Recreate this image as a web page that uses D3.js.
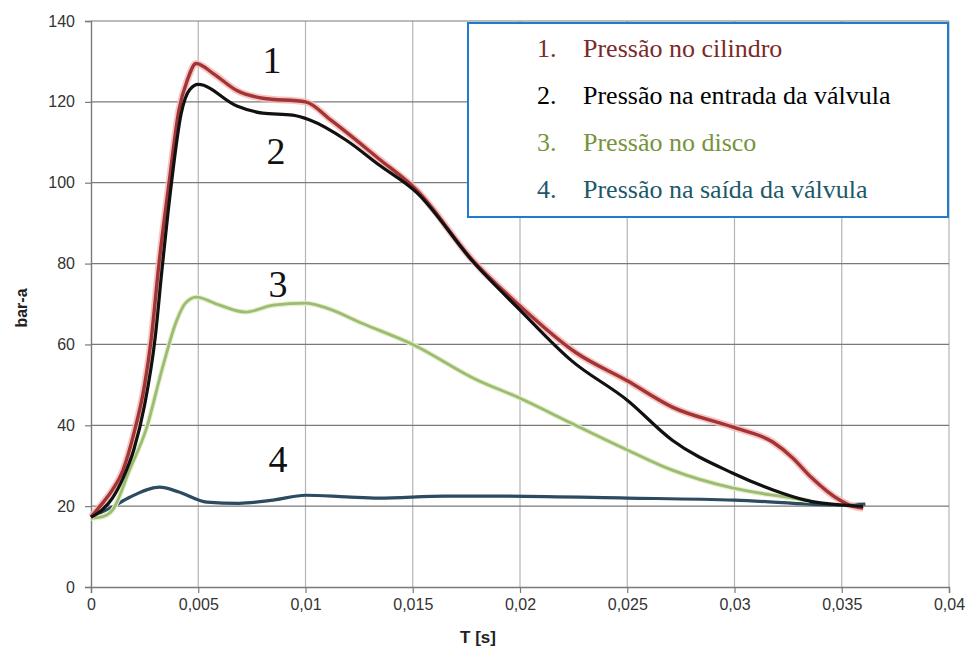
<!DOCTYPE html>
<html>
<head>
<meta charset="utf-8">
<script src="https://cdn.jsdelivr.net/npm/d3@7"></script>
<style>
  body { margin: 0; background: #fff; }
  svg { display: block; }
</style>
</head>
<body>
<script>
// time axis values in seconds, pressures in bar-a
const cilindroT = [0, 0.0005, 0.001, 0.0015, 0.002, 0.0025, 0.0028, 0.00317, 0.00364, 0.0041, 0.0045, 0.0049, 0.0057, 0.0068, 0.008, 0.01, 0.0112, 0.0134, 0.0152, 0.0178, 0.02, 0.0226, 0.025, 0.0271, 0.0299, 0.0318, 0.0327, 0.0336, 0.0349, 0.0355, 0.036];
const cilindroP = [17.3, 20.5, 24, 29, 38, 50, 61, 80, 100, 118, 125.5, 129.5, 127, 122.8, 120.9, 120, 115.4, 106, 98.1, 80.8, 69.5, 58, 51, 44.5, 39.6, 35.8, 32, 27, 21.5, 20, 19.5];

const entradaT = [0, 0.0005, 0.001, 0.0015, 0.002, 0.0025, 0.003, 0.0033, 0.00373, 0.0042, 0.0046, 0.005, 0.0068, 0.008, 0.0094, 0.0102, 0.0119, 0.0134, 0.0152, 0.0178, 0.02, 0.0224, 0.025, 0.0271, 0.0299, 0.0318, 0.0333, 0.0349, 0.036];
const entradaP = [17.3, 19, 22, 27, 34, 45, 62, 78, 99, 117, 123, 124.3, 119, 117.2, 116.7, 115.5, 110.5, 104.5, 97.5, 80.5, 68.5, 56, 46.2, 36.3, 28.2, 24, 21.5, 20.3, 20];

const discoT = [0, 0.0006, 0.001, 0.0018, 0.0026, 0.0033, 0.004, 0.0044, 0.0049, 0.006, 0.0072, 0.0085, 0.01, 0.011, 0.0126, 0.015, 0.018, 0.02, 0.0224, 0.025, 0.0271, 0.0299, 0.0318, 0.0327, 0.0335];
const discoP = [17, 17.5, 19, 29, 39.5, 53.6, 66, 70.2, 71.7, 69.7, 68, 69.7, 70.2, 69, 65.3, 60, 51.2, 46.7, 40.5, 33.9, 28.9, 24.5, 22.7, 22, 21.3];

const saidaT = [0, 0.001, 0.0018, 0.0032, 0.0041, 0.0054, 0.0069, 0.0085, 0.01, 0.0119, 0.0134, 0.0165, 0.018, 0.025, 0.03, 0.0349, 0.0361];
const saidaP = [17.3, 19.8, 22.2, 24.7, 23.5, 21, 20.7, 21.5, 22.7, 22.3, 22, 22.5, 22.5, 22, 21.5, 20.3, 20.5];

const legendItems = ["Pressão no cilindro", "Pressão na entrada da válvula", "Pressão no disco", "Pressão na saída da válvula"];
const xTicks = [0, 0.005, 0.01, 0.015, 0.02, 0.025, 0.03, 0.035, 0.04];
const yTicks = [0, 20, 40, 60, 80, 100, 120, 140];

const width = 968, height = 648;
const margin = {top: 21, right: 19, bottom: 61, left: 91};

const svg = d3.select("body").append("svg")
    .attr("width", width)
    .attr("height", height);

const x = d3.scaleLinear().domain([0, 0.04]).range([margin.left, width - margin.right]);
const y = d3.scaleLinear().domain([0, 140]).range([height - margin.bottom, margin.top]);

// vertical grid (light)
svg.append("g")
    .selectAll("line")
    .data(xTicks.slice(1))
    .enter().append("line")
    .attr("x1", d => x(d)).attr("x2", d => x(d))
    .attr("y1", y(140)).attr("y2", y(0))
    .attr("stroke", "#b4b4b4").attr("stroke-width", 1.2);

// horizontal grid (darker)
svg.append("g")
    .selectAll("line")
    .data(yTicks.slice(1))
    .enter().append("line")
    .attr("x1", x(0)).attr("x2", x(0.04))
    .attr("y1", d => y(d)).attr("y2", d => y(d))
    .attr("stroke", "#7a7a7a").attr("stroke-width", 1.2);

const fmt = d => d === 0 ? "0" : String(d).replace(".", ",");

const xAxis = svg.append("g")
    .attr("transform", `translate(0,${y(0)})`)
    .call(d3.axisBottom(x).tickValues(xTicks).tickFormat(fmt).tickSize(6).tickPadding(6));
const yAxis = svg.append("g")
    .attr("transform", `translate(${x(0)},0)`)
    .call(d3.axisLeft(y).tickValues(yTicks).tickSize(6).tickPadding(10));

[xAxis, yAxis].forEach(a => {
    a.select(".domain").attr("stroke", "#7a7a7a").attr("stroke-width", 1.4);
    a.selectAll(".tick line").attr("stroke", "#7a7a7a").attr("stroke-width", 1.2);
    a.selectAll("text")
        .attr("fill", "#333")
        .style("font-family", "Liberation Sans, Arial, sans-serif")
        .style("font-size", "16px");
});

svg.append("text")
    .attr("x", 478).attr("y", 643)
    .attr("text-anchor", "middle")
    .style("font-family", "Liberation Sans, Arial, sans-serif")
    .style("font-size", "17px").style("font-weight", "bold")
    .attr("fill", "#222")
    .text("T [s]");

svg.append("text")
    .attr("transform", "translate(27,308) rotate(-90)")
    .attr("text-anchor", "middle")
    .style("font-family", "Liberation Sans, Arial, sans-serif")
    .style("font-size", "16px").style("font-weight", "bold")
    .attr("fill", "#222")
    .text("bar-a");

const line = d3.line()
    .x(d => x(d[0]))
    .y(d => y(d[1]))
    .curve(d3.curveMonotoneX);

const zip = (t, p) => t.map((v, i) => [v, p[i]]);

// outlet, disc, cylinder, inlet
svg.append("path").datum(zip(saidaT, saidaP))
    .attr("d", line).attr("fill", "none")
    .attr("stroke", "#2c4a60").attr("stroke-width", 3.2);

svg.append("path").datum(zip(discoT, discoP))
    .attr("d", line).attr("fill", "none")
    .attr("stroke", "#e2efc8").attr("stroke-width", 5);
svg.append("path").datum(zip(discoT, discoP))
    .attr("d", line).attr("fill", "none")
    .attr("stroke", "#9dbb72").attr("stroke-width", 2.8);

svg.append("path").datum(zip(cilindroT, cilindroP))
    .attr("d", line).attr("fill", "none")
    .attr("stroke", "#f4b8b8").attr("stroke-width", 7).attr("opacity", 0.8);
svg.append("path").datum(zip(cilindroT, cilindroP))
    .attr("d", line).attr("fill", "none")
    .attr("stroke", "#a23434").attr("stroke-width", 3.4);

svg.append("path").datum(zip(entradaT, entradaP))
    .attr("d", line).attr("fill", "none")
    .attr("stroke", "#111").attr("stroke-width", 3.2);

// curve numbers
const curveLabels = [
    {t: "1", px: 272, py: 73},
    {t: "2", px: 276, py: 164},
    {t: "3", px: 278, py: 297},
    {t: "4", px: 278, py: 472}
];
svg.append("g")
    .selectAll("text")
    .data(curveLabels)
    .enter().append("text")
    .attr("x", d => d.px).attr("y", d => d.py)
    .attr("text-anchor", "middle")
    .style("font-family", "Liberation Serif, Times New Roman, serif")
    .style("font-size", "38px")
    .attr("fill", "#111")
    .text(d => d.t);

// legend box
const lg = svg.append("g");
lg.append("rect")
    .attr("x", 468).attr("y", 23)
    .attr("width", 480).attr("height", 194)
    .attr("fill", "#fff")
    .attr("stroke", "#1f7ad0").attr("stroke-width", 2);

const legendColors = ["#7b2a2a", "#000", "#77933c", "#215868"];
const rows = lg.selectAll("g")
    .data(legendItems)
    .enter().append("g")
    .attr("transform", (d, i) => `translate(0,${57 + i * 47})`);
rows.append("text")
    .attr("x", 537)
    .style("font-family", "Liberation Serif, Times New Roman, serif")
    .style("font-size", "26px")
    .attr("fill", (d, i) => legendColors[i])
    .text((d, i) => (i + 1) + ".");
rows.append("text")
    .attr("x", 583)
    .style("font-family", "Liberation Serif, Times New Roman, serif")
    .style("font-size", "26px")
    .attr("fill", (d, i) => legendColors[i])
    .text(d => d);
</script>
</body>
</html>
